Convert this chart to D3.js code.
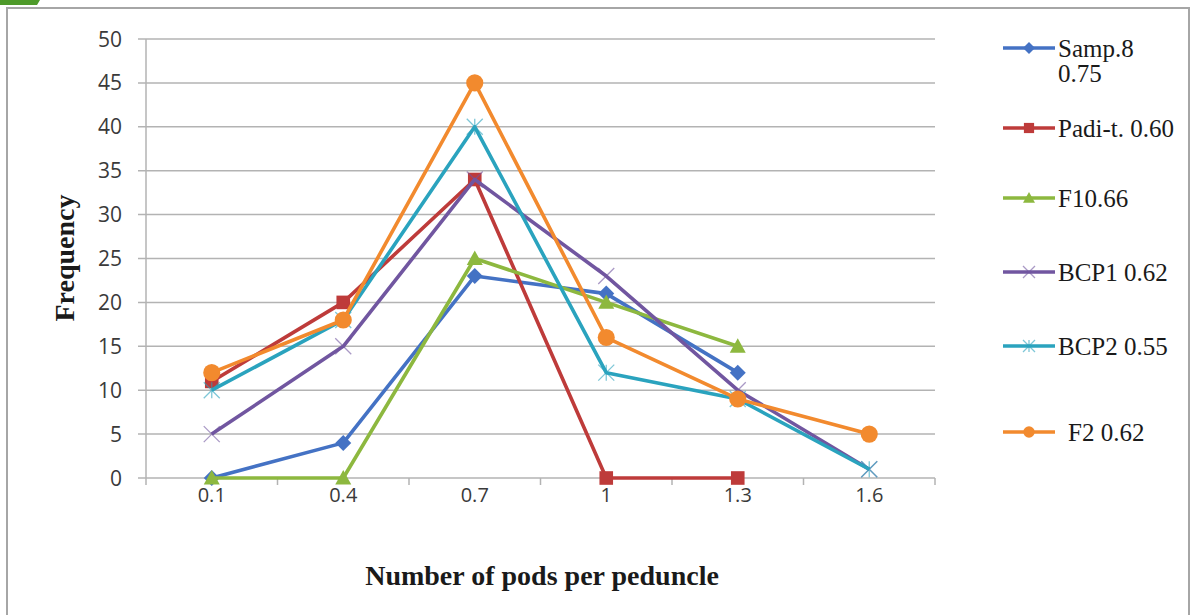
<!DOCTYPE html>
<html>
<head>
<meta charset="utf-8">
<script src="https://cdn.jsdelivr.net/npm/d3@7"></script>
<style>
  body { margin: 0; background: #fff; }
  svg { display: block; }
</style>
</head>
<body>
<div id="chart"></div>
<script>
// categories on the x axis
const categories = ["0.1", "0.4", "0.7", "1", "1.3", "1.6"];
const yTicks = [0, 5, 10, 15, 20, 25, 30, 35, 40, 45, 50];

// series values (null = no point)
const samp8 = [0, 4, 23, 21, 12, null];
const padiT = [11, 20, 34, 0, 0, null];
const f1 = [0, 0, 25, 20, 15, null];
const bcp1 = [5, 15, 34, 23, 10, 1];
const bcp2 = [10, 18, 40, 12, 9, 1];
const f2 = [12, 18, 45, 16, 9, 5];

const seriesNames = ["Samp.8 0.75", "Padi-t. 0.60", "F10.66", "BCP1 0.62", "BCP2 0.55", "F2 0.62"];

const series = [
    { name: seriesNames[0], values: samp8, color: "#4472c4", marker: "diamond" },
    { name: seriesNames[1], values: padiT, color: "#be3b3a", marker: "square" },
    { name: seriesNames[2], values: f1, color: "#8db83f", marker: "triangle" },
    { name: seriesNames[3], values: bcp1, color: "#7156a0", marker: "x" },
    { name: seriesNames[4], values: bcp2, color: "#2aa3be", marker: "star" },
    { name: seriesNames[5], values: f2, color: "#f28a2e", marker: "circle" }
];

const W = 1191, H = 615;
const plot = { left: 146, right: 935, top: 39, bottom: 478 };

const svg = d3.select("#chart").append("svg")
    .attr("width", W)
    .attr("height", H);

// outer frame + little green tab
svg.append("rect")
    .attr("x", 7).attr("y", 8)
    .attr("width", 1182).attr("height", 620)
    .attr("fill", "#fff")
    .attr("stroke", "#a6a6a6").attr("stroke-width", 2);
svg.append("path")
    .attr("d", "M0,0 L40,0 L37,5 L0,5 Z")
    .attr("fill", "#4e9a2a");

const x = d3.scaleBand()
    .domain(categories)
    .range([plot.left, plot.right]);

const y = d3.scaleLinear()
    .domain([0, 50])
    .range([plot.bottom, plot.top]);

// gridlines
svg.append("g")
    .selectAll("line")
    .data(yTicks)
    .join("line")
    .attr("x1", plot.left - 8)
    .attr("x2", plot.right)
    .attr("y1", d => y(d))
    .attr("y2", d => y(d))
    .attr("stroke", "#b3b3b3")
    .attr("stroke-width", 1.5);

// y axis line
svg.append("line")
    .attr("x1", plot.left).attr("x2", plot.left)
    .attr("y1", plot.top).attr("y2", plot.bottom)
    .attr("stroke", "#b3b3b3").attr("stroke-width", 1.5);

const tickFont = "'Open Sans', 'Liberation Sans', sans-serif";

// y tick labels
svg.append("g")
    .selectAll("text")
    .data(yTicks)
    .join("text")
    .attr("x", plot.left - 24)
    .attr("y", d => y(d))
    .attr("dy", "0.36em")
    .attr("text-anchor", "end")
    .attr("font-family", tickFont)
    .attr("font-size", 21)
    .attr("fill", "#3a3a3a")
    .text(d => d);

// x axis ticks between categories
const xBounds = d3.range(categories.length + 1).map(i => plot.left + i * x.bandwidth());
svg.append("g")
    .selectAll("line")
    .data(xBounds)
    .join("line")
    .attr("x1", d => d).attr("x2", d => d)
    .attr("y1", plot.bottom).attr("y2", plot.bottom + 7)
    .attr("stroke", "#b3b3b3").attr("stroke-width", 1.5);

// x tick labels
svg.append("g")
    .selectAll("text")
    .data(categories)
    .join("text")
    .attr("x", d => x(d) + x.bandwidth() / 2)
    .attr("y", 495)
    .attr("dy", "0.36em")
    .attr("text-anchor", "middle")
    .attr("font-family", tickFont)
    .attr("font-size", 20)
    .attr("fill", "#3a3a3a")
    .text(d => d);

// axis titles
svg.append("text")
    .attr("transform", "translate(64,258) rotate(-90)")
    .attr("text-anchor", "middle")
    .attr("dy", "0.35em")
    .attr("font-family", "'Liberation Serif', serif")
    .attr("font-weight", "bold")
    .attr("font-size", 28)
    .attr("fill", "#1a1a1a")
    .text("Frequency");

svg.append("text")
    .attr("x", 542).attr("y", 575)
    .attr("dy", "0.35em")
    .attr("text-anchor", "middle")
    .attr("font-family", "'Liberation Serif', serif")
    .attr("font-weight", "bold")
    .attr("font-size", 28)
    .attr("fill", "#1a1a1a")
    .text("Number of pods per peduncle");

const cx = i => x(categories[i]) + x.bandwidth() / 2;

const drawMarker = (g, type, color, size) => {
    const s = size;
    if (type === "diamond") {
        g.append("path").attr("d", `M0,${-s}L${s},0L0,${s}L${-s},0Z`).attr("fill", color);
    } else if (type === "square") {
        g.append("rect").attr("x", -s * 0.85).attr("y", -s * 0.85)
            .attr("width", s * 1.7).attr("height", s * 1.7).attr("fill", color);
    } else if (type === "triangle") {
        g.append("path").attr("d", `M0,${-s}L${s},${s * 0.8}L${-s},${s * 0.8}Z`).attr("fill", color);
    } else if (type === "circle") {
        g.append("circle").attr("r", s * 0.95).attr("fill", color);
    } else if (type === "x") {
        g.append("path").attr("d", `M${-s},${-s}L${s},${s}M${-s},${s}L${s},${-s}`)
            .attr("stroke", color).attr("stroke-width", 1.3).attr("opacity", 0.6);
    } else if (type === "star") {
        g.append("path").attr("d", `M${-s},${-s}L${s},${s}M${-s},${s}L${s},${-s}M0,${-s}L0,${s}`)
            .attr("stroke", color).attr("stroke-width", 1.3).attr("opacity", 0.6);
    }
};

const line = d3.line()
    .defined(d => d.v !== null)
    .x(d => cx(d.i))
    .y(d => y(d.v));

series.forEach(s => {
    const pts = s.values.map((v, i) => ({ v, i }));
    const g = svg.append("g");
    g.append("path")
        .attr("d", line(pts))
        .attr("fill", "none")
        .attr("stroke", s.color)
        .attr("stroke-width", 3.6)
        .attr("stroke-linejoin", "round");
    pts.filter(d => d.v !== null).forEach(d => {
        const m = g.append("g").attr("transform", `translate(${cx(d.i)},${y(d.v)})`);
        drawMarker(m, s.marker, s.color, s.marker === "circle" ? 9 : 8);
    });
});

// legend
const legendY = [48, 128, 198, 272, 346, 432];
const legendFont = "'Liberation Serif', serif";
const legend = svg.append("g");
series.forEach((s, k) => {
    const ly = legendY[k];
    const g = legend.append("g");
    g.append("line")
        .attr("x1", 1003).attr("x2", 1055)
        .attr("y1", ly).attr("y2", ly)
        .attr("stroke", s.color).attr("stroke-width", 3.4);
    const m = g.append("g").attr("transform", `translate(1029,${ly})`);
    drawMarker(m, s.marker, s.color, 6);
    const t = g.append("text")
        .attr("x", s.marker === "circle" ? 1068 : 1058)
        .attr("y", ly)
        .attr("dy", "0.35em")
        .attr("font-family", legendFont)
        .attr("font-size", 25)
        .attr("fill", "#1a1a1a");
    if (k === 0) {
        t.text("Samp.8");
        g.append("text")
            .attr("x", 1058).attr("y", ly + 25).attr("dy", "0.35em")
            .attr("font-family", legendFont)
            .attr("font-size", 25)
            .attr("fill", "#1a1a1a")
            .text("0.75");
    } else {
        t.text(s.name);
    }
});
</script>
</body>
</html>
